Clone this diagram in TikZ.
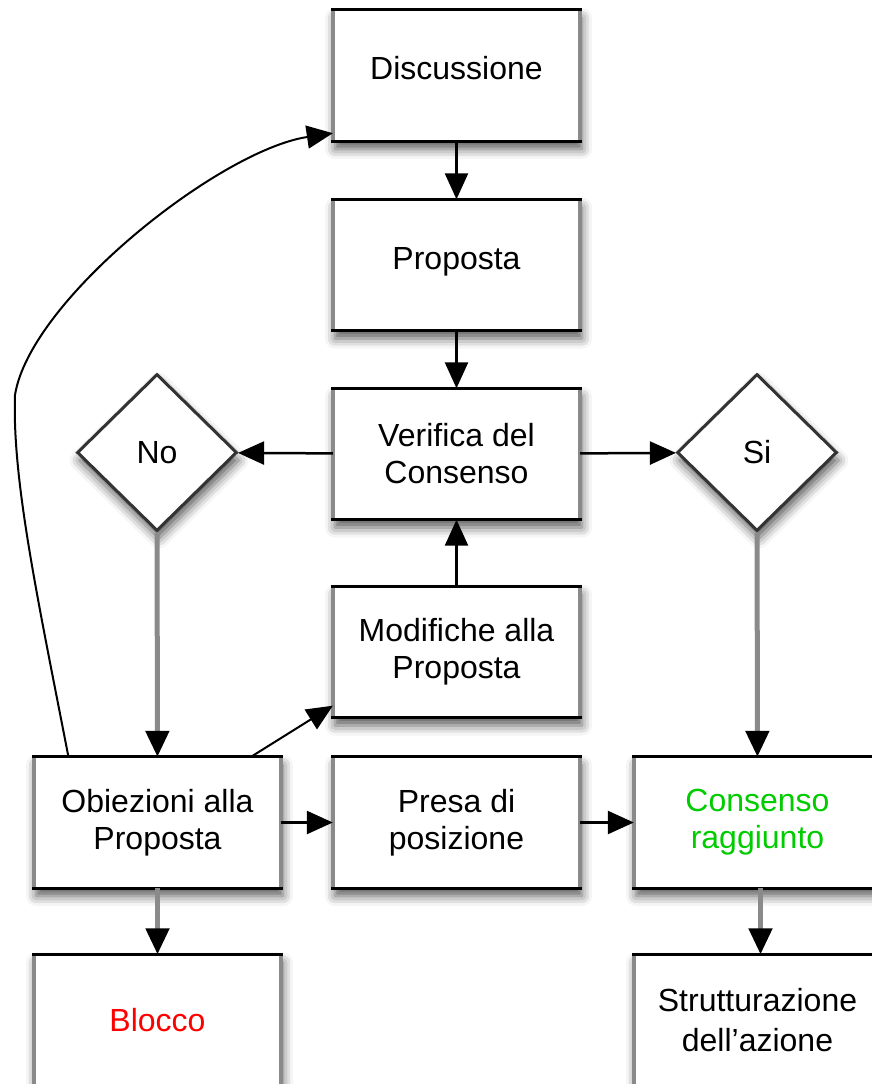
\documentclass[tikz,border=0pt]{standalone}
\usepackage{fontspec}
\setmainfont{Liberation Sans}
\usetikzlibrary{arrows.meta,shapes.geometric,shadows.blur,calc}
\definecolor{lgray}{RGB}{138,138,138}
\definecolor{dgray}{RGB}{51,51,51}
\definecolor{cgreen}{RGB}{0,204,0}
\begin{document}
\begin{tikzpicture}[x=1pt,y=-1pt,
  shad/.style={blur shadow={shadow xshift=2pt, shadow yshift=-8pt, shadow blur radius=10pt, shadow opacity=65}},
  box/.style={rectangle, minimum width=247pt, minimum height=131pt, inner sep=0pt,
    fill=white, align=center, font=\fontsize{32}{37}\selectfont, shad},
  dia/.style={diamond, minimum width=160pt, minimum height=157pt, inner sep=0pt,
    fill=white, draw=dgray, line width=3pt, font=\fontsize{32}{37}\selectfont, shad},
  arr/.style={line width=2.5pt, -{Triangle[length=26pt,width=23pt]}},
  garr/.style={line width=5pt, draw=lgray, -{Triangle[length=26pt,width=23pt,color=black]}},
  sideedge/.style={line width=3.5pt, draw=lgray},
  topedge/.style={line width=3pt, draw=black}
]
\useasboundingbox (0,0) rectangle (872,1084);

\node[box] (disc) at (456.5,75.5) {\raisebox{16pt}{Discussione}};
\node[box] (prop) at (456.5,265) {\raisebox{13pt}{Proposta}};
\node[box] (ver) at (456.5,454) {\raisebox{3pt}{Verifica del}\\[-3pt]Consenso};
\node[dia] (no) at (157,452.5) {No};
\node[dia] (si) at (757,452.5) {Si};
\node[box] (mod) at (456.5,652) {\raisebox{3pt}{Modifiche alla}\\[-3pt]Proposta};
\node[box] (obi) at (157.5,822.5) {Obiezioni alla\\Proposta};
\node[box] (presa) at (456.5,822.5) {Presa di\\posizione};
\node[box, text=cgreen] (cons) at (757.5,822.5) {Consenso\\raggiunto};
\node[box, text=red] (blo) at (157.5,1020) {Blocco};
\node[box] (str) at (757.5,1020) {\raisebox{3pt}{Strutturazione}\\dell'azione};

\foreach \n in {disc,prop,ver,mod,obi,presa,cons,blo,str}{
  \draw[sideedge] (\n.north west) -- (\n.south west) (\n.north east) -- (\n.south east);
  \draw[topedge] ([xshift=-1.5pt]\n.north west) -- ([xshift=1.5pt]\n.north east)
                 ([xshift=-1.5pt]\n.south west) -- ([xshift=1.5pt]\n.south east);
}

\draw[arr] (disc) -- (prop);
\draw[arr] (prop) -- (ver);
\draw[arr] (ver) -- (no);
\draw[arr] (ver) -- (si);
\draw[arr] (mod) -- (ver);
\draw[garr] (no) -- (obi);
\draw[garr] (si) -- (cons);
\draw[arr] (obi) -- (presa);
\draw[arr] (presa) -- (cons);
\draw[garr] (obi) -- (blo);
\draw[garr] ([xshift=3pt]cons.south) -- ([xshift=3pt]str.north);
\draw[arr, line width=2pt] ($(obi.north west)!0.878!(obi.north east)$) -- ([yshift=12pt]mod.south west);
\draw[arr, line width=2pt] ($(obi.north west)!0.14!(obi.north east)$)
  .. controls (38,600) and (12,480) .. (15,395)
  .. controls (30,300) and (220,150) .. ([yshift=8pt]disc.south west);
\end{tikzpicture}
\end{document}
